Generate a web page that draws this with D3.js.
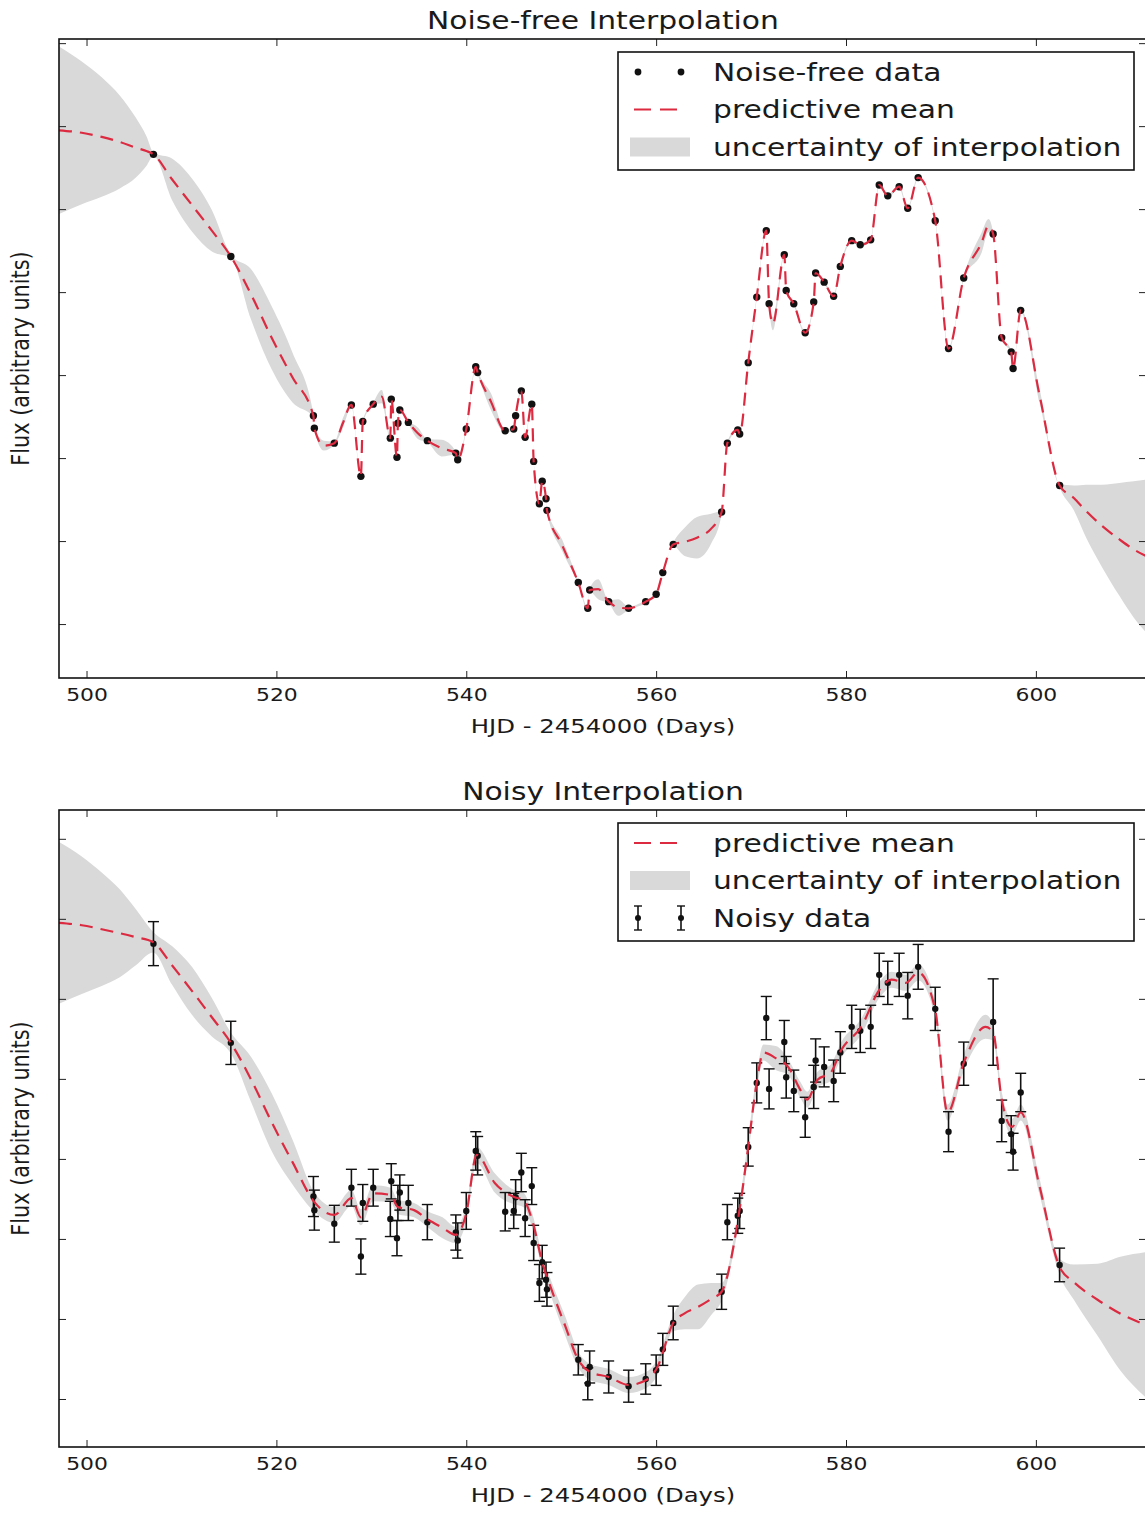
<!DOCTYPE html>
<html>
<head>
<meta charset="utf-8">
<script src="https://cdn.jsdelivr.net/npm/d3@7"></script>
<style>
body{margin:0;background:#fff;}
text{font-family:"DejaVu Sans",sans-serif;fill:#1a1a1a;}
</style>
</head>
<body>
<svg id="chart" width="1145" height="1513"></svg>
<script>
// x axis ticks (HJD - 2454000) and flux ticks (no labels, arbitrary units)
var dayTicks = [500, 520, 540, 560, 580, 600];
var fluxTicks = [0, 1, 2, 3, 4, 5, 6, 7];

// noise-free observations
var freeDays = [507.05, 515.2, 523.9, 524.0, 526.1, 527.9, 528.9, 529.1, 530.2, 532.0, 532.1, 532.7, 532.8, 533.0, 533.9, 535.9, 538.9, 539.1, 540.0, 541.0, 541.2, 544.1, 545.0, 545.2, 545.8, 546.2, 546.9, 547.1, 547.7, 548.0, 548.4, 548.5, 551.8, 552.8, 553.0, 555.0, 557.1, 558.9, 560.0, 560.7, 561.8, 566.9, 567.5, 568.6, 568.8, 569.7, 570.6, 571.6, 571.9, 573.5, 573.7, 574.5, 575.7, 576.6, 576.8, 577.7, 578.7, 579.4, 580.6, 581.5, 582.6, 583.5, 584.4, 585.6, 586.5, 587.6, 589.4, 590.8, 592.4, 595.5, 596.4, 597.4, 597.6, 598.4, 602.5];
var freeFlux = [5.66, 4.43, 2.51, 2.36, 2.18, 2.64, 1.78, 2.44, 2.65, 2.24, 2.71, 2.01, 2.42, 2.58, 2.43, 2.21, 2.06, 1.98, 2.35, 3.10, 3.03, 2.33, 2.35, 2.51, 2.81, 2.25, 2.65, 1.96, 1.45, 1.72, 1.51, 1.37, 0.50, 0.19, 0.41, 0.27, 0.19, 0.27, 0.36, 0.62, 0.96, 1.35, 2.18, 2.34, 2.29, 3.15, 3.94, 4.74, 3.86, 4.45, 4.02, 3.86, 3.51, 3.88, 4.23, 4.12, 3.95, 4.31, 4.62, 4.57, 4.63, 5.29, 5.16, 5.27, 5.01, 5.38, 4.86, 3.32, 4.17, 4.70, 3.45, 3.28, 3.08, 3.78, 1.67];

// predictive mean / spread in the gaps of the noise-free fit
var gapDays = [497.1, 499.5, 501.6, 503.5, 505.2, 506.3, 509.0, 511.1, 513.2, 517.3, 519.5, 521.7, 525.0, 527.0, 531.1, 534.9, 537.4, 542.6, 550.1, 553.9, 556.0, 563.0, 564.3, 565.8, 572.3, 594.3, 595.0, 600.4, 604.0, 605.3, 607.0, 608.8, 610.3, 611.6];
var gapMean = [5.95, 5.92, 5.87, 5.81, 5.74, 5.70, 5.36, 5.05, 4.74, 3.98, 3.45, 2.97, 2.15, 2.42, 2.74, 2.30, 2.12, 2.68, 0.95, 0.42, 0.20, 0.99, 1.04, 1.15, 3.62, 4.60, 4.80, 2.75, 1.52, 1.36, 1.18, 1.02, 0.90, 0.82];
var gapSpread = [1.01, 0.86, 0.72, 0.56, 0.36, 0.18, 0.25, 0.32, 0.25, 0.30, 0.38, 0.30, 0.06, 0.06, 0.08, 0.07, 0.10, 0.10, 0.07, 0.12, 0.10, 0.17, 0.25, 0.18, 0.08, 0.12, 0.08, 0.08, 0.15, 0.32, 0.50, 0.68, 0.82, 0.92];

// noisy observations with error bars
var noisyDays = freeDays.slice();
var noisyFlux = [5.69, 4.45, 2.53, 2.36, 2.19, 2.64, 1.78, 2.45, 2.64, 2.25, 2.72, 2.01, 2.45, 2.58, 2.45, 2.21, 2.08, 1.98, 2.35, 3.10, 3.04, 2.34, 2.35, 2.52, 2.83, 2.26, 2.66, 1.95, 1.45, 1.71, 1.49, 1.37, 0.49, 0.19, 0.40, 0.275, 0.16, 0.25, 0.36, 0.62, 0.95, 1.34, 2.21, 2.29, 2.35, 3.15, 3.95, 4.76, 3.875, 4.46, 4.02, 3.85, 3.52, 3.90, 4.23, 4.15, 3.975, 4.33, 4.65, 4.60, 4.65, 5.30, 5.20, 5.30, 5.04, 5.40, 4.875, 3.34, 4.19, 4.71, 3.475, 3.31, 3.09, 3.83, 1.675];
var noisyErr = [0.275, 0.27, 0.25, 0.25, 0.23, 0.23, 0.22, 0.23, 0.23, 0.22, 0.22, 0.22, 0.22, 0.22, 0.22, 0.22, 0.22, 0.22, 0.23, 0.24, 0.24, 0.24, 0.22, 0.22, 0.24, 0.23, 0.23, 0.22, 0.23, 0.21, 0.22, 0.21, 0.19, 0.2, 0.2, 0.2, 0.2, 0.19, 0.19, 0.2, 0.21, 0.22, 0.22, 0.22, 0.22, 0.24, 0.25, 0.27, 0.25, 0.27, 0.26, 0.26, 0.25, 0.27, 0.27, 0.25, 0.26, 0.26, 0.27, 0.27, 0.27, 0.27, 0.27, 0.27, 0.29, 0.28, 0.27, 0.25, 0.27, 0.54, 0.26, 0.23, 0.23, 0.24, 0.21];

// predictive mean / spread of the noisy fit
var meanNoisyDays = [497.1, 499.5, 501.6, 503.5, 505.2, 507.0, 509.0, 511.1, 513.2, 515.2, 517.3, 519.5, 521.7, 524.0, 526.1, 527.9, 528.9, 530.2, 532.0, 532.8, 534.5, 536.0, 537.5, 538.9, 540.0, 541.1, 543.0, 545.1, 546.0, 547.0, 548.0, 549.0, 550.4, 551.8, 553.0, 555.0, 557.1, 559.0, 560.1, 561.8, 563.0, 564.4, 565.8, 566.9, 568.7, 569.7, 570.6, 571.3, 572.6, 573.9, 575.2, 575.9, 577.0, 578.4, 579.5, 581.6, 583.5, 584.8, 586.3, 587.6, 589.4, 590.7, 592.4, 594.7, 595.5, 596.4, 597.5, 598.4, 600.4, 602.5, 604.0, 606.5, 609.0, 611.6];
var meanNoisyFlux = [5.95, 5.92, 5.87, 5.82, 5.77, 5.71, 5.42, 5.10, 4.77, 4.45, 4.00, 3.46, 2.96, 2.46, 2.30, 2.51, 2.27, 2.57, 2.55, 2.40, 2.36, 2.24, 2.14, 2.05, 2.32, 3.05, 2.70, 2.52, 2.49, 2.21, 1.71, 1.36, 0.92, 0.49, 0.34, 0.275, 0.175, 0.24, 0.39, 0.95, 1.07, 1.15, 1.25, 1.34, 2.30, 3.15, 3.96, 4.33, 4.26, 4.15, 3.86, 3.74, 3.99, 4.08, 4.36, 4.65, 5.11, 5.24, 5.20, 5.33, 4.86, 3.58, 4.20, 4.65, 4.58, 3.74, 3.40, 3.58, 2.65, 1.65, 1.46, 1.24, 1.06, 0.925];
var meanNoisySpread = [1.01, 0.86, 0.71, 0.55, 0.35, 0.13, 0.24, 0.30, 0.24, 0.13, 0.28, 0.36, 0.28, 0.12, 0.10, 0.10, 0.10, 0.10, 0.09, 0.09, 0.09, 0.10, 0.13, 0.10, 0.10, 0.10, 0.12, 0.09, 0.09, 0.09, 0.09, 0.10, 0.12, 0.10, 0.10, 0.10, 0.10, 0.10, 0.10, 0.10, 0.20, 0.28, 0.20, 0.11, 0.10, 0.10, 0.10, 0.10, 0.15, 0.10, 0.10, 0.10, 0.10, 0.10, 0.10, 0.10, 0.10, 0.10, 0.10, 0.10, 0.10, 0.10, 0.10, 0.15, 0.10, 0.10, 0.10, 0.10, 0.10, 0.10, 0.22, 0.45, 0.72, 0.91];

var SX = 1.23; // picture is stretched horizontally
var RED = "#dc2a40";
var BAND = "#d9d9d9";

var svg = d3.select("#chart");
svg.append("rect").attr("width", 1145).attr("height", 1513).attr("fill", "#fff");

var x = d3.scaleLinear().domain([497.1, 611.6]).range([59, 1146]);

function stretchedText(g, tx, ty, str, size, rotate){
	var t = "translate(" + tx + "," + ty + ") scale(" + SX + ",1)";
	if(rotate){
		t += " rotate(-90)";
	}
	return g.append("text").attr("transform", t).attr("text-anchor", "middle")
		.style("font-size", size + "px").text(str);
}

function drawPanel(cfg){
	var g = svg.append("g");
	var y = d3.scaleLinear().domain(cfg.yDomain).range([cfg.bottom, cfg.top]);
	var clipId = "clip-" + cfg.id;
	svg.append("clipPath").attr("id", clipId).append("rect")
		.attr("x", 59).attr("y", cfg.top).attr("width", 1146 - 59).attr("height", cfg.bottom - cfg.top);

	var plot = g.append("g").attr("clip-path", "url(#" + clipId + ")");

	var band = d3.area().curve(d3.curveMonotoneX)
		.x(function(d){ return x(d.day); })
		.y0(function(d){ return y(d.mean - d.spread); })
		.y1(function(d){ return y(d.mean + d.spread); });
	plot.append("path").datum(cfg.knots).attr("d", band).attr("fill", BAND);

	if(cfg.errors){
		var eb = plot.selectAll("g.eb").data(cfg.points).enter().append("g").attr("class", "eb");
		eb.append("line").attr("x1", function(d){ return x(d.day); }).attr("x2", function(d){ return x(d.day); })
			.attr("y1", function(d){ return y(d.flux - d.err); }).attr("y2", function(d){ return y(d.flux + d.err); })
			.attr("stroke", "#111").attr("stroke-width", 1.6);
		eb.append("line").attr("x1", function(d){ return x(d.day) - 5.5; }).attr("x2", function(d){ return x(d.day) + 5.5; })
			.attr("y1", function(d){ return y(d.flux + d.err); }).attr("y2", function(d){ return y(d.flux + d.err); })
			.attr("stroke", "#111").attr("stroke-width", 1.4);
		eb.append("line").attr("x1", function(d){ return x(d.day) - 5.5; }).attr("x2", function(d){ return x(d.day) + 5.5; })
			.attr("y1", function(d){ return y(d.flux - d.err); }).attr("y2", function(d){ return y(d.flux - d.err); })
			.attr("stroke", "#111").attr("stroke-width", 1.4);
	}
	plot.selectAll("circle.pt").data(cfg.points).enter().append("circle").attr("class", "pt")
		.attr("cx", function(d){ return x(d.day); }).attr("cy", function(d){ return y(d.flux); })
		.attr("r", cfg.errors ? 3.2 : 3.7).attr("fill", "#111");

	var mean = d3.line().curve(d3.curveMonotoneX)
		.x(function(d){ return x(d.day); })
		.y(function(d){ return y(d.mean); });
	plot.append("path").datum(cfg.knots).attr("d", mean).attr("fill", "none")
		.attr("stroke", RED).attr("stroke-width", 2.2).attr("stroke-dasharray", "13,8");

	// ticks on all four sides, pointing inward
	var ax = g.append("g").attr("transform", "translate(0," + cfg.bottom + ")")
		.call(d3.axisBottom(x).tickValues(dayTicks).tickSize(-7).tickSizeOuter(0).tickPadding(10));
	ax.selectAll(".tick text").attr("transform", "scale(" + SX + ",1)")
		.style("font-size", "17.8px").style("font-family", "DejaVu Sans").attr("fill", "#1a1a1a");
	g.append("g").attr("transform", "translate(0," + cfg.top + ")")
		.call(d3.axisTop(x).tickValues(dayTicks).tickSize(-7).tickSizeOuter(0).tickFormat(""));
	g.append("g").attr("transform", "translate(59,0)")
		.call(d3.axisLeft(y).tickValues(fluxTicks).tickSize(-7).tickSizeOuter(0).tickFormat(""));
	g.append("g").attr("transform", "translate(1146,0)")
		.call(d3.axisRight(y).tickValues(fluxTicks).tickSize(-7).tickSizeOuter(0).tickFormat(""));
	g.selectAll(".domain").remove();
	g.selectAll(".tick line").attr("stroke", "#222").attr("stroke-width", 1);

	g.append("rect").attr("x", 59).attr("y", cfg.top).attr("width", 1146 - 59).attr("height", cfg.bottom - cfg.top)
		.attr("fill", "none").attr("stroke", "#111").attr("stroke-width", 1.6);

	stretchedText(g, 603, cfg.top - 10, cfg.title, 24.2);
	stretchedText(g, 603, cfg.bottom + 55, "HJD - 2454000 (Days)", 19.8);
	stretchedText(g, 29, (cfg.top + cfg.bottom) / 2, "Flux (arbitrary units)", 20.8, true);

	// legend
	var lg = g.append("g").attr("transform", "translate(618," + (cfg.top + 13) + ")");
	lg.append("rect").attr("width", 516).attr("height", 118).attr("fill", "#fff")
		.attr("stroke", "#111").attr("stroke-width", 1.6);
	var rows = cfg.legend;
	for(var i = 0; i < rows.length; i++){
		var cy = 20 + i * 37.5;
		var kind = rows[i][0];
		if(kind === "dots"){
			lg.append("circle").attr("cx", 20).attr("cy", cy).attr("r", 3.4).attr("fill", "#111");
			lg.append("circle").attr("cx", 63).attr("cy", cy).attr("r", 3.4).attr("fill", "#111");
		}
		else if(kind === "mean"){
			lg.append("line").attr("x1", 16).attr("x2", 60).attr("y1", cy).attr("y2", cy)
				.attr("stroke", RED).attr("stroke-width", 2.1).attr("stroke-dasharray", "17,9");
		}
		else if(kind === "band"){
			lg.append("rect").attr("x", 12).attr("y", cy - 9.5).attr("width", 60).attr("height", 19).attr("fill", BAND);
		}
		else if(kind === "errs"){
			[20, 63].forEach(function(ex){
				lg.append("line").attr("x1", ex).attr("x2", ex).attr("y1", cy - 12).attr("y2", cy + 12)
					.attr("stroke", "#111").attr("stroke-width", 1.6);
				lg.append("line").attr("x1", ex - 4).attr("x2", ex + 4).attr("y1", cy - 12).attr("y2", cy - 12)
					.attr("stroke", "#111").attr("stroke-width", 1.4);
				lg.append("line").attr("x1", ex - 4).attr("x2", ex + 4).attr("y1", cy + 12).attr("y2", cy + 12)
					.attr("stroke", "#111").attr("stroke-width", 1.4);
				lg.append("circle").attr("cx", ex).attr("cy", cy).attr("r", 3).attr("fill", "#111");
			});
		}
		lg.append("text").attr("transform", "translate(95," + (cy + 8.8) + ") scale(" + SX + ",1)")
			.style("font-size", "24.2px").text(rows[i][1]);
	}
}

// knots for the noise-free fit: through each observation plus the gap values
var topKnots = [];
for(var i = 0; i < freeDays.length; i++){
	topKnots.push({day: freeDays[i], mean: freeFlux[i], spread: 0.02});
}
for(var j = 0; j < gapDays.length; j++){
	topKnots.push({day: gapDays[j], mean: gapMean[j], spread: gapSpread[j]});
}
topKnots.sort(function(a, b){ return a.day - b.day; });

var freePoints = freeDays.map(function(d, i){ return {day: d, flux: freeFlux[i]}; });
var noisyPoints = noisyDays.map(function(d, i){ return {day: d, flux: noisyFlux[i], err: noisyErr[i]}; });
var bottomKnots = meanNoisyDays.map(function(d, i){
	return {day: d, mean: meanNoisyFlux[i], spread: meanNoisySpread[i]};
});

drawPanel({
	id: "top", top: 39, bottom: 678, yDomain: [-0.65, 7.05],
	title: "Noise-free Interpolation", knots: topKnots, points: freePoints, errors: false,
	legend: [["dots", "Noise-free data"], ["mean", "predictive mean"], ["band", "uncertainty of interpolation"]]
});
drawPanel({
	id: "bottom", top: 810, bottom: 1447, yDomain: [-0.6, 7.36],
	title: "Noisy Interpolation", knots: bottomKnots, points: noisyPoints, errors: true,
	legend: [["mean", "predictive mean"], ["band", "uncertainty of interpolation"], ["errs", "Noisy data"]]
});
</script>
</body>
</html>
